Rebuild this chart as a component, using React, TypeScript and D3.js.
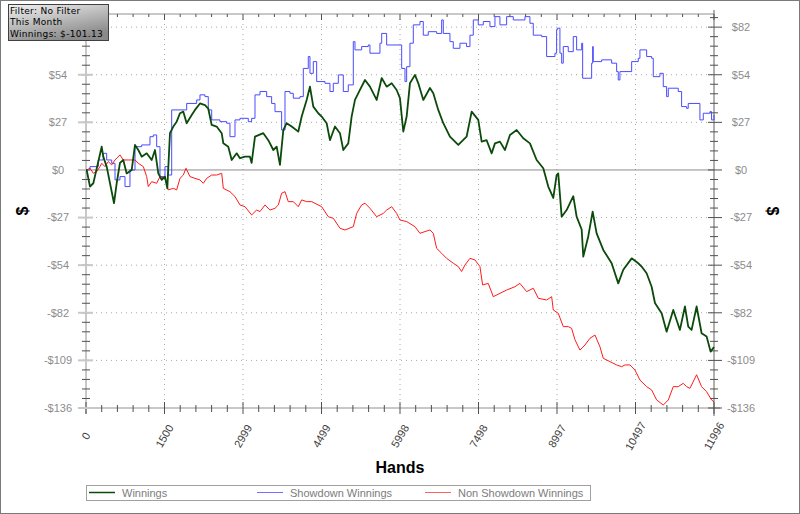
import * as d3 from "d3";
import { useEffect, useRef } from "react";

// [hand, $] points
const winnings: [number, number][] = [
  [0, 0], [13, 0], [76, -9.5], [140, -7.6], [300, 13.3], [330, 7.6], [395, 1.9], [535, -19], [586, -7.6],
  [649, 4], [712, 5.7], [777, -2], [873, 0], [936, 14.3], [999, 11.4], [1064, 7.6], [1159, 9.5], [1255, 5.7],
  [1318, 11.4], [1381, -2], [1446, -5.7], [1509, -3.8], [1553, -10.5], [1604, 21], [1668, 24.8], [1732, 27.6],
  [1795, 32.4], [1859, 33.3], [1923, 26.7], [2019, 31.4], [2082, 34.3], [2177, 38], [2273, 37], [2336, 35],
  [2401, 25.7], [2496, 24.8], [2592, 21], [2623, 15.2], [2718, 13.3], [2783, 5.7], [2878, 9.5], [2941, 6.7],
  [3037, 7.6], [3132, 7.6], [3164, 4], [3228, 19], [3387, 21], [3482, 17], [3578, 11.4], [3642, 13.3],
  [3705, 2.9], [3769, 22.8], [3833, 26.7], [3929, 24.8], [4055, 21.9], [4120, 30.5], [4215, 40], [4278, 47.6],
  [4342, 36.2], [4437, 32.4], [4502, 30.5], [4597, 26.7], [4660, 17], [4756, 24.8], [4851, 21], [4915, 11.4],
  [5010, 15.2], [5074, 30.5], [5138, 40], [5233, 45.7], [5329, 51.4], [5424, 47.6], [5552, 40], [5648, 52.5],
  [5743, 47.6], [5839, 49.5], [5934, 45.7], [5997, 41], [6061, 21.9], [6125, 30.5], [6188, 49.5], [6284, 54.3],
  [6348, 49.5], [6443, 40], [6570, 46.8], [6634, 43.8], [6729, 34.3], [6825, 26.7], [6952, 19], [7111, 14.3],
  [7270, 19], [7367, 33.3], [7493, 28.6], [7558, 16.2], [7653, 17], [7749, 9.5], [7812, 15.2], [7907, 16.2],
  [8003, 11.4], [8098, 20], [8226, 22.8], [8353, 18.1], [8480, 15.2], [8608, 5.7], [8735, 1], [8830, -9.5],
  [8926, -16], [8990, -2.9], [9021, -2], [9086, -26.7], [9181, -22.9], [9308, -15], [9372, -26.7], [9468, -34],
  [9499, -49.5], [9594, -38], [9678, -23.8], [9754, -36.2], [9881, -45.7], [10041, -53.3], [10167, -64.8],
  [10263, -57], [10423, -50.5], [10549, -53.3], [10613, -55.2], [10709, -59], [10805, -66.7], [10868, -76],
  [10996, -81.9], [11091, -92.4], [11218, -80], [11345, -91.4], [11441, -78], [11504, -89.5], [11568, -91.4],
  [11664, -78], [11759, -93.3], [11855, -95.2], [11931, -103.8], [11996, -101.13],
];

const showdown: [number, number][] = [
  [0, 0], [76, 1.9], [235, 5.7], [330, 9.5], [395, 5.7], [491, 3.8], [554, -5.7], [649, -3.8], [745, -9.5],
  [840, 0], [936, 13.3], [1064, 14.3], [1222, 19], [1286, 20], [1350, 13.3], [1413, -3.8], [1509, 1.9],
  [1572, -2.9], [1637, 34.3], [1923, 38], [2114, 40], [2177, 42.9], [2273, 41.9], [2336, 34.3], [2401, 28.6],
  [2559, 27.6], [2687, 26.7], [2750, 19], [2846, 28.6], [2941, 29.5], [3100, 27.6], [3164, 29.5], [3228, 42.9],
  [3323, 44.8], [3451, 41.9], [3546, 38], [3610, 33.3], [3737, 22.8], [3801, 44.8], [3896, 43.8], [3960, 41],
  [4087, 41.9], [4151, 58], [4246, 64.8], [4278, 55.2], [4342, 61.9], [4406, 50.5], [4565, 49.5], [4660, 44.8],
  [4724, 49.5], [4820, 54.3], [4915, 44.8], [5010, 48.6], [5106, 73.3], [5138, 68.6], [5265, 70.5], [5392, 71.4],
  [5424, 66.7], [5615, 72.4], [5648, 78], [5743, 71.4], [6030, 58], [6093, 50.5], [6125, 59], [6188, 72.4],
  [6252, 82.9], [6379, 84.8], [6443, 77], [6538, 79], [6698, 78], [6794, 85.7], [6825, 78], [6952, 73.3],
  [7016, 69.5], [7143, 72.4], [7270, 70.5], [7334, 77], [7398, 85.7], [7493, 82.9], [7589, 84.8], [7716, 81.9],
  [7812, 87.6], [7907, 82.9], [8035, 87.6], [8162, 85.7], [8385, 87.6], [8480, 83.8], [8544, 77], [8704, 76.2],
  [8799, 64.8], [8958, 66.7], [8990, 80], [9002, 81], [9053, 66.7], [9086, 61], [9117, 70.5], [9212, 67.6],
  [9308, 76.2], [9372, 68.6], [9468, 72.4], [9487, 52.4], [9659, 61], [9678, 70.5], [9690, 61.9], [9850, 62.9],
  [10041, 61], [10136, 56.2], [10167, 51.4], [10199, 56.2], [10423, 61.9], [10549, 63.8], [10581, 68.6],
  [10709, 64.8], [10805, 63.8], [10836, 53.3], [10963, 55.2], [11027, 47.6], [11091, 41.9], [11123, 46.7],
  [11313, 44.8], [11377, 36.2], [11473, 35.2], [11504, 38], [11727, 28.6], [11791, 32.4], [11918, 33.3],
  [11950, 28.6], [11996, 31.4],
];

const nonShowdown: [number, number][] = [
  [0, 0], [13, 0], [76, 1], [140, -1.9], [204, -1], [267, 1.9], [300, 3.8], [363, 1.9], [426, 4.8], [491, 2.9],
  [554, 5.7], [649, 8.6], [712, 5.7], [808, 5.7], [936, 5.7], [999, 3.8], [1095, 1.9], [1159, -3.8], [1190, -9.5],
  [1255, -6.7], [1350, -7.6], [1413, -3.8], [1509, -4.8], [1572, -11.4], [1668, -10.5], [1732, -11.4],
  [1795, -4.8], [1859, -2.9], [1910, 1], [1986, -3.8], [2082, -4.8], [2177, -5.7], [2241, -7.6], [2305, -4.8],
  [2401, -2.9], [2496, -2.9], [2592, -1.9], [2623, -10.5], [2750, -12.4], [2846, -15.2], [2941, -20],
  [3037, -21], [3164, -25.7], [3260, -22.9], [3323, -23.8], [3419, -20], [3514, -22.9], [3610, -21.9],
  [3674, -20], [3737, -13.3], [3801, -12.4], [3864, -18.1], [3960, -18.1], [4055, -21], [4120, -17.1],
  [4215, -18.1], [4311, -18.1], [4502, -21], [4628, -26.7], [4724, -27.6], [4851, -33.3], [4947, -34.3],
  [5106, -32.4], [5170, -24.8], [5265, -20], [5329, -19], [5424, -21.9], [5552, -26.7], [5679, -24.8],
  [5743, -22.9], [5839, -21], [5934, -24.8], [5997, -28.6], [6125, -29.5], [6284, -32.4], [6379, -36.2],
  [6475, -35.2], [6570, -34.3], [6634, -36.2], [6698, -44.8], [6794, -47.6], [6889, -50.5], [7016, -53.3],
  [7111, -55.2], [7175, -58], [7239, -54.3], [7334, -50.5], [7430, -51.4], [7525, -55.2], [7576, -65.7],
  [7684, -64.8], [7780, -72.4], [7907, -70.5], [8035, -68.6], [8194, -66.7], [8289, -64.8], [8417, -69.5],
  [8544, -67.6], [8640, -73.3], [8799, -74.3], [8895, -72.4], [8926, -80], [9021, -81.9], [9117, -89.5],
  [9212, -89.5], [9276, -90.5], [9340, -97], [9435, -102.9], [9531, -100], [9626, -96.2], [9722, -94.3],
  [9817, -101], [9881, -107.6], [10008, -109.5], [10136, -111.4], [10232, -112.4], [10295, -111.4],
  [10390, -111.4], [10486, -114.3], [10581, -120], [10709, -123.8], [10805, -125.7], [10900, -131.4],
  [11027, -134.3], [11123, -131.4], [11218, -123.8], [11313, -123.8], [11409, -121.9], [11473, -123.8],
  [11536, -124.8], [11664, -117], [11759, -123.8], [11855, -126.7], [11950, -131.4], [11996, -132.5],
];

const xTickValues = [0, 1499.5, 2999, 4498.5, 5998, 7497.5, 8997, 10496.5, 11996];
const xTickLabels = ["0", "1500", "2999", "4499", "5998", "7498", "8997", "10497", "11996"];
const yTickValues = [-136, -108.8, -81.6, -54.4, -27.2, 0, 27.2, 54.4, 81.6];
const yTickLabels = ["-$136", "-$109", "-$82", "-$54", "-$27", "$0", "$27", "$54", "$82"];

const filterLines = ["Filter: No Filter", "This Month", "Winnings: $-101.13"];
const legendItems = [
  { name: "Winnings", color: "#0b4a0b" },
  { name: "Showdown Winnings", color: "#7070ff" },
  { name: "Non Showdown Winnings", color: "#ff6060" },
];

const FONT = "'Liberation Sans', Arial, sans-serif";

export default function App() {
  const svgRef = useRef<SVGSVGElement | null>(null);

  useEffect(() => {
    const svg = d3.select(svgRef.current);
    svg.selectAll("*").remove();

    const width = 800;
    const height = 514;
    const margin = { top: 14, right: 86, bottom: 106, left: 86 };
    const x0 = margin.left, x1 = width - margin.right;
    const y0 = margin.top, y1 = height - margin.bottom;

    const x = d3.scaleLinear().domain([0, 11996]).range([x0, x1]);
    const y = d3.scaleLinear().domain([-136, 89.1]).range([y1, y0]);

    svg.append("rect").attr("width", width).attr("height", height).attr("fill", "#fff");

    // grid
    const grid = svg.append("g").attr("stroke", "#a8a8a8").attr("stroke-dasharray", "1,4");
    xTickValues.slice(1, -1).forEach((v) => {
      grid.append("line").attr("x1", x(v)).attr("x2", x(v)).attr("y1", y0).attr("y2", y1);
    });
    yTickValues.forEach((v) => {
      if (v === 0 || v === -136) return;
      grid.append("line").attr("x1", x0).attr("x2", x1).attr("y1", y(v)).attr("y2", y(v));
    });

    // zero line
    svg.append("line")
      .attr("x1", x0).attr("x2", x1).attr("y1", y(0)).attr("y2", y(0))
      .attr("stroke", "#8c8c8c").attr("stroke-width", 1);

    // axis frame
    const axes = svg.append("g");
    axes.append("line").attr("x1", x0).attr("x2", x1).attr("y1", y0).attr("y2", y0)
      .attr("stroke", "#c8c8c8").attr("stroke-width", 2);
    axes.append("line").attr("x1", x0).attr("x2", x1 + 6).attr("y1", y1).attr("y2", y1)
      .attr("stroke", "#c8c8c8").attr("stroke-width", 2);
    axes.append("line").attr("x1", x0).attr("x2", x0).attr("y1", y0).attr("y2", y1 + 6)
      .attr("stroke", "#c8c8c8").attr("stroke-width", 2);
    axes.append("line").attr("x1", x1).attr("x2", x1).attr("y1", y0 - 4).attr("y2", y1 + 8)
      .attr("stroke", "#606060").attr("stroke-width", 1);

    // minor ticks
    const xMinor = d3.range(0, 41).map((k) => k * 299.9);
    const yMinor = d3.range(-25, 17).map((k) => k * 5.44);
    const ticks = axes.append("g").attr("stroke", "#505050").attr("stroke-width", 1);
    xMinor.forEach((v, i) => {
      const major = i % 5 === 0;
      ticks.append("line").attr("x1", x(v)).attr("x2", x(v))
        .attr("y1", y1 - (major ? 6 : 3)).attr("y2", y1 + (major ? 6 : 4));
      ticks.append("line").attr("x1", x(v)).attr("x2", x(v))
        .attr("y1", y0).attr("y2", y0 + (major ? 6 : 3));
    });
    yMinor.forEach((v, i) => {
      const major = (i - 25) % 5 === 0;
      if (major) {
        axes.append("line").attr("x1", x0 - 8).attr("x2", x0 + 7).attr("y1", y(v)).attr("y2", y(v))
          .attr("stroke", "#c8c8c8").attr("stroke-width", 2);
      }
      ticks.append("line").attr("x1", x0 - 4).attr("x2", x0 + 4).attr("y1", y(v)).attr("y2", y(v));
      ticks.append("line").attr("x1", x1 - (major ? 6 : 4)).attr("x2", x1 + (major ? 8 : 4))
        .attr("y1", y(v)).attr("y2", y(v));
    });

    // tick labels
    const labels = svg.append("g").attr("font-family", FONT).attr("font-size", 11).attr("fill", "#8c8c8c");
    yTickValues.forEach((v, i) => {
      labels.append("text").attr("x", 58).attr("y", y(v)).attr("dy", "0.35em")
        .attr("text-anchor", "middle").text(yTickLabels[i]);
      labels.append("text").attr("x", 741).attr("y", y(v)).attr("dy", "0.35em")
        .attr("text-anchor", "middle").text(yTickLabels[i]);
    });
    xTickValues.forEach((v, i) => {
      labels.append("text")
        .attr("transform", `translate(${x(v)},436) rotate(-60)`)
        .attr("text-anchor", "middle").attr("dy", "0.35em")
        .attr("fill", "#404040")
        .text(xTickLabels[i]);
    });

    // series
    const line = d3.line<[number, number]>().x((d) => x(d[0])).y((d) => y(d[1]));
    const stepLine = d3.line<[number, number]>().x((d) => x(d[0])).y((d) => y(d[1])).curve(d3.curveStepAfter);

    svg.append("path").datum(showdown).attr("fill", "none")
      .attr("stroke", "#4a4aff").attr("stroke-width", 1).attr("d", stepLine);
    svg.append("path").datum(nonShowdown).attr("fill", "none")
      .attr("stroke", "#ff1a1a").attr("stroke-width", 1).attr("d", line);
    svg.append("path").datum(winnings).attr("fill", "none")
      .attr("stroke", "#0b4a0b").attr("stroke-width", 1.8).attr("stroke-linejoin", "round").attr("d", line);

    // axis titles
    svg.append("text").attr("x", 400).attr("y", 473).attr("text-anchor", "middle")
      .attr("font-family", FONT).attr("font-size", 16).attr("font-weight", "bold").text("Hands");
    svg.append("text").attr("transform", "translate(22,211) rotate(-90)").attr("text-anchor", "middle")
      .attr("dy", "0.35em").attr("font-family", FONT).attr("font-size", 16).attr("font-weight", "bold").text("$");
    svg.append("text").attr("transform", "translate(773,211) rotate(90)").attr("text-anchor", "middle")
      .attr("dy", "0.35em").attr("font-family", FONT).attr("font-size", 16).attr("font-weight", "bold").text("$");

    // legend
    const legend = svg.append("g");
    legend.append("rect").attr("x", 86.5).attr("y", 485.5).attr("width", 504).attr("height", 15)
      .attr("fill", "#fff").attr("stroke", "#a0a0a0");
    legendItems.forEach((d, i) => {
      const lx = 89 + i * 168;
      legend.append("line").attr("x1", lx).attr("x2", lx + 26).attr("y1", 492.5).attr("y2", 492.5)
        .attr("stroke", d.color).attr("stroke-width", i === 0 ? 1.5 : 1);
      legend.append("text").attr("x", lx + 33).attr("y", 496.5).attr("font-family", FONT)
        .attr("font-size", 11).attr("fill", "#7c7c7c").text(d.name);
    });

    // filter box
    const defs = svg.append("defs");
    const grad = defs.append("linearGradient").attr("id", "boxGrad")
      .attr("x1", 0).attr("y1", 0).attr("x2", 0.5).attr("y2", 1);
    grad.append("stop").attr("offset", "0%").attr("stop-color", "#f2f2f2");
    grad.append("stop").attr("offset", "100%").attr("stop-color", "#8a8a8a");
    svg.append("rect").attr("x", 8.5).attr("y", 4.5).attr("width", 100).attr("height", 36)
      .attr("fill", "url(#boxGrad)").attr("stroke", "#404040");
    filterLines.forEach((t, i) => {
      svg.append("text").attr("x", 10).attr("y", 13.5 + i * 11.6)
        .attr("font-family", "'DejaVu Sans', Verdana, sans-serif").attr("font-size", 9)
        .attr("letter-spacing", 0.3).attr("fill", "#000").text(t);
    });

    // outer border
    svg.append("rect").attr("x", 0.5).attr("y", 0.5).attr("width", width - 1).attr("height", height - 1)
      .attr("fill", "none").attr("stroke", "#7a7a7a");
  }, []);

  return (
    <div style={{ position: "absolute", left: 0, top: 0 }}>
      <svg ref={svgRef} width={800} height={514} style={{ display: "block" }}></svg>
    </div>
  );
}
